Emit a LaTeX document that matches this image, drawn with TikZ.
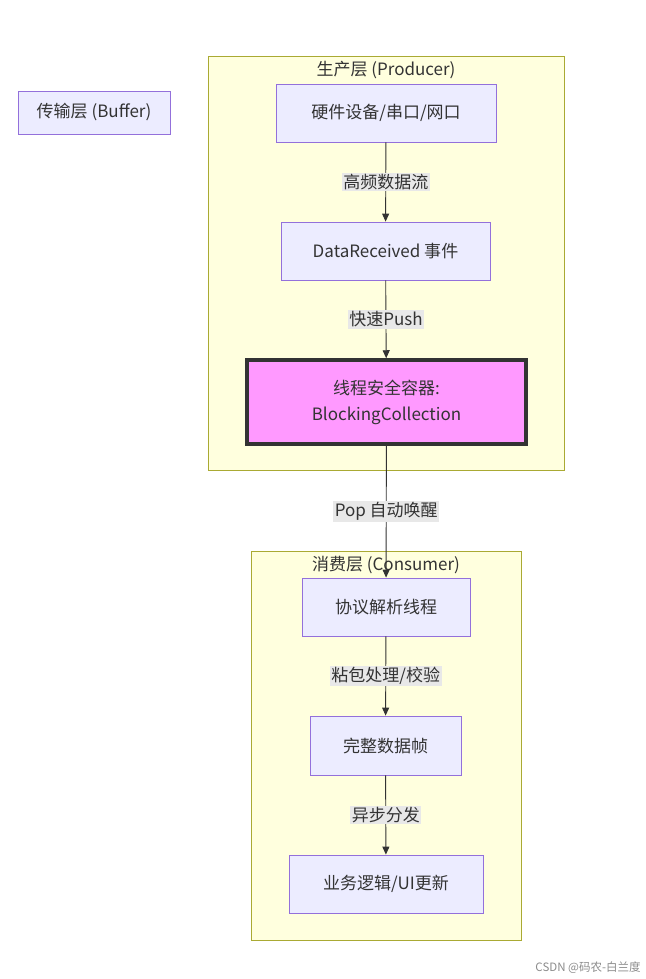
\documentclass[tikz,border=0pt]{standalone}
\usepackage{fontspec}
\setmainfont{Noto Sans CJK SC}
\usetikzlibrary{arrows.meta}
\definecolor{nodefill}{HTML}{ECECFF}
\definecolor{nodeline}{HTML}{9370DB}
\definecolor{clusterfill}{HTML}{FFFFDE}
\definecolor{clusterline}{HTML}{AAAA33}
\definecolor{edgeline}{HTML}{333333}
\definecolor{labelbg}{HTML}{E8E8E8}
\definecolor{hotfill}{HTML}{FF99FF}
\definecolor{txt}{HTML}{333333}
\begin{document}
\begin{tikzpicture}[x=1pt,y=-1pt,
  every node/.style={font=\fontsize{17}{26}\selectfont, text=txt},
  cluster/.style={draw=clusterline, fill=clusterfill, line width=0.8pt},
  proc/.style={draw=nodeline, fill=nodefill, line width=0.8pt, rectangle, inner sep=0pt},
  elabel/.style={fill=labelbg, inner sep=1.5pt},
  flow/.style={draw=edgeline, line width=0.9pt, -{Triangle[length=8pt,width=7pt]}},
  title/.style={font=\fontsize{17}{20}\selectfont}
]
\useasboundingbox (0,0) rectangle (645,979);
\fill[white] (0,0) rectangle (645,979);

% clusters
\draw[cluster] (208,56) rectangle (564,470);
\node[title] (ptitle) at (386,70) {生产层 (Producer)};
\draw[cluster] (251,551) rectangle (521,940);
\node[title] (ctitle) at (386,565) {消费层 (Consumer)};

% buffer label node
\node[proc, minimum width=152pt, minimum height=43pt] (buf) at (94,112.5) {传输层 (Buffer)};

% producer nodes
\node[proc, minimum width=220pt, minimum height=58pt] (hw) at (386,113) {硬件设备/串口/网口};
\node[proc, minimum width=209pt, minimum height=58pt] (dr) at (385.5,251) {DataReceived 事件};
\node[draw=edgeline, fill=hotfill, line width=3.5pt, minimum width=279pt, minimum height=84pt, align=center, inner sep=0pt] (bc) at (386.5,402) {线程安全容器:\\BlockingCollection};

% consumer nodes
\node[proc, minimum width=168pt, minimum height=58pt] (pt) at (386,607) {协议解析线程};
\node[proc, minimum width=151pt, minimum height=59pt] (fr) at (385.5,745.5) {完整数据帧};
\node[proc, minimum width=194pt, minimum height=58pt] (ui) at (386,884) {业务逻辑/UI更新};

% edges
\draw[flow] (hw) -- node[elabel] (l1) {高频数据流} (dr);
\draw[flow] (dr) -- node[elabel] (l2) {快速Push} (bc);
\draw[flow] (bc) -- node[elabel, pos=0.5] (l3) {Pop 自动唤醒} (pt);
\draw[flow] (pt) -- node[elabel] (l4) {粘包处理/校验} (fr);
\draw[flow] (fr) -- node[elabel] (l5) {异步分发} (ui);

% watermark
\node[font=\fontsize{11.5}{13}\selectfont, text=black!45] (wm) at (588,968) {CSDN @码农-白兰度};
\end{tikzpicture}
\end{document}
